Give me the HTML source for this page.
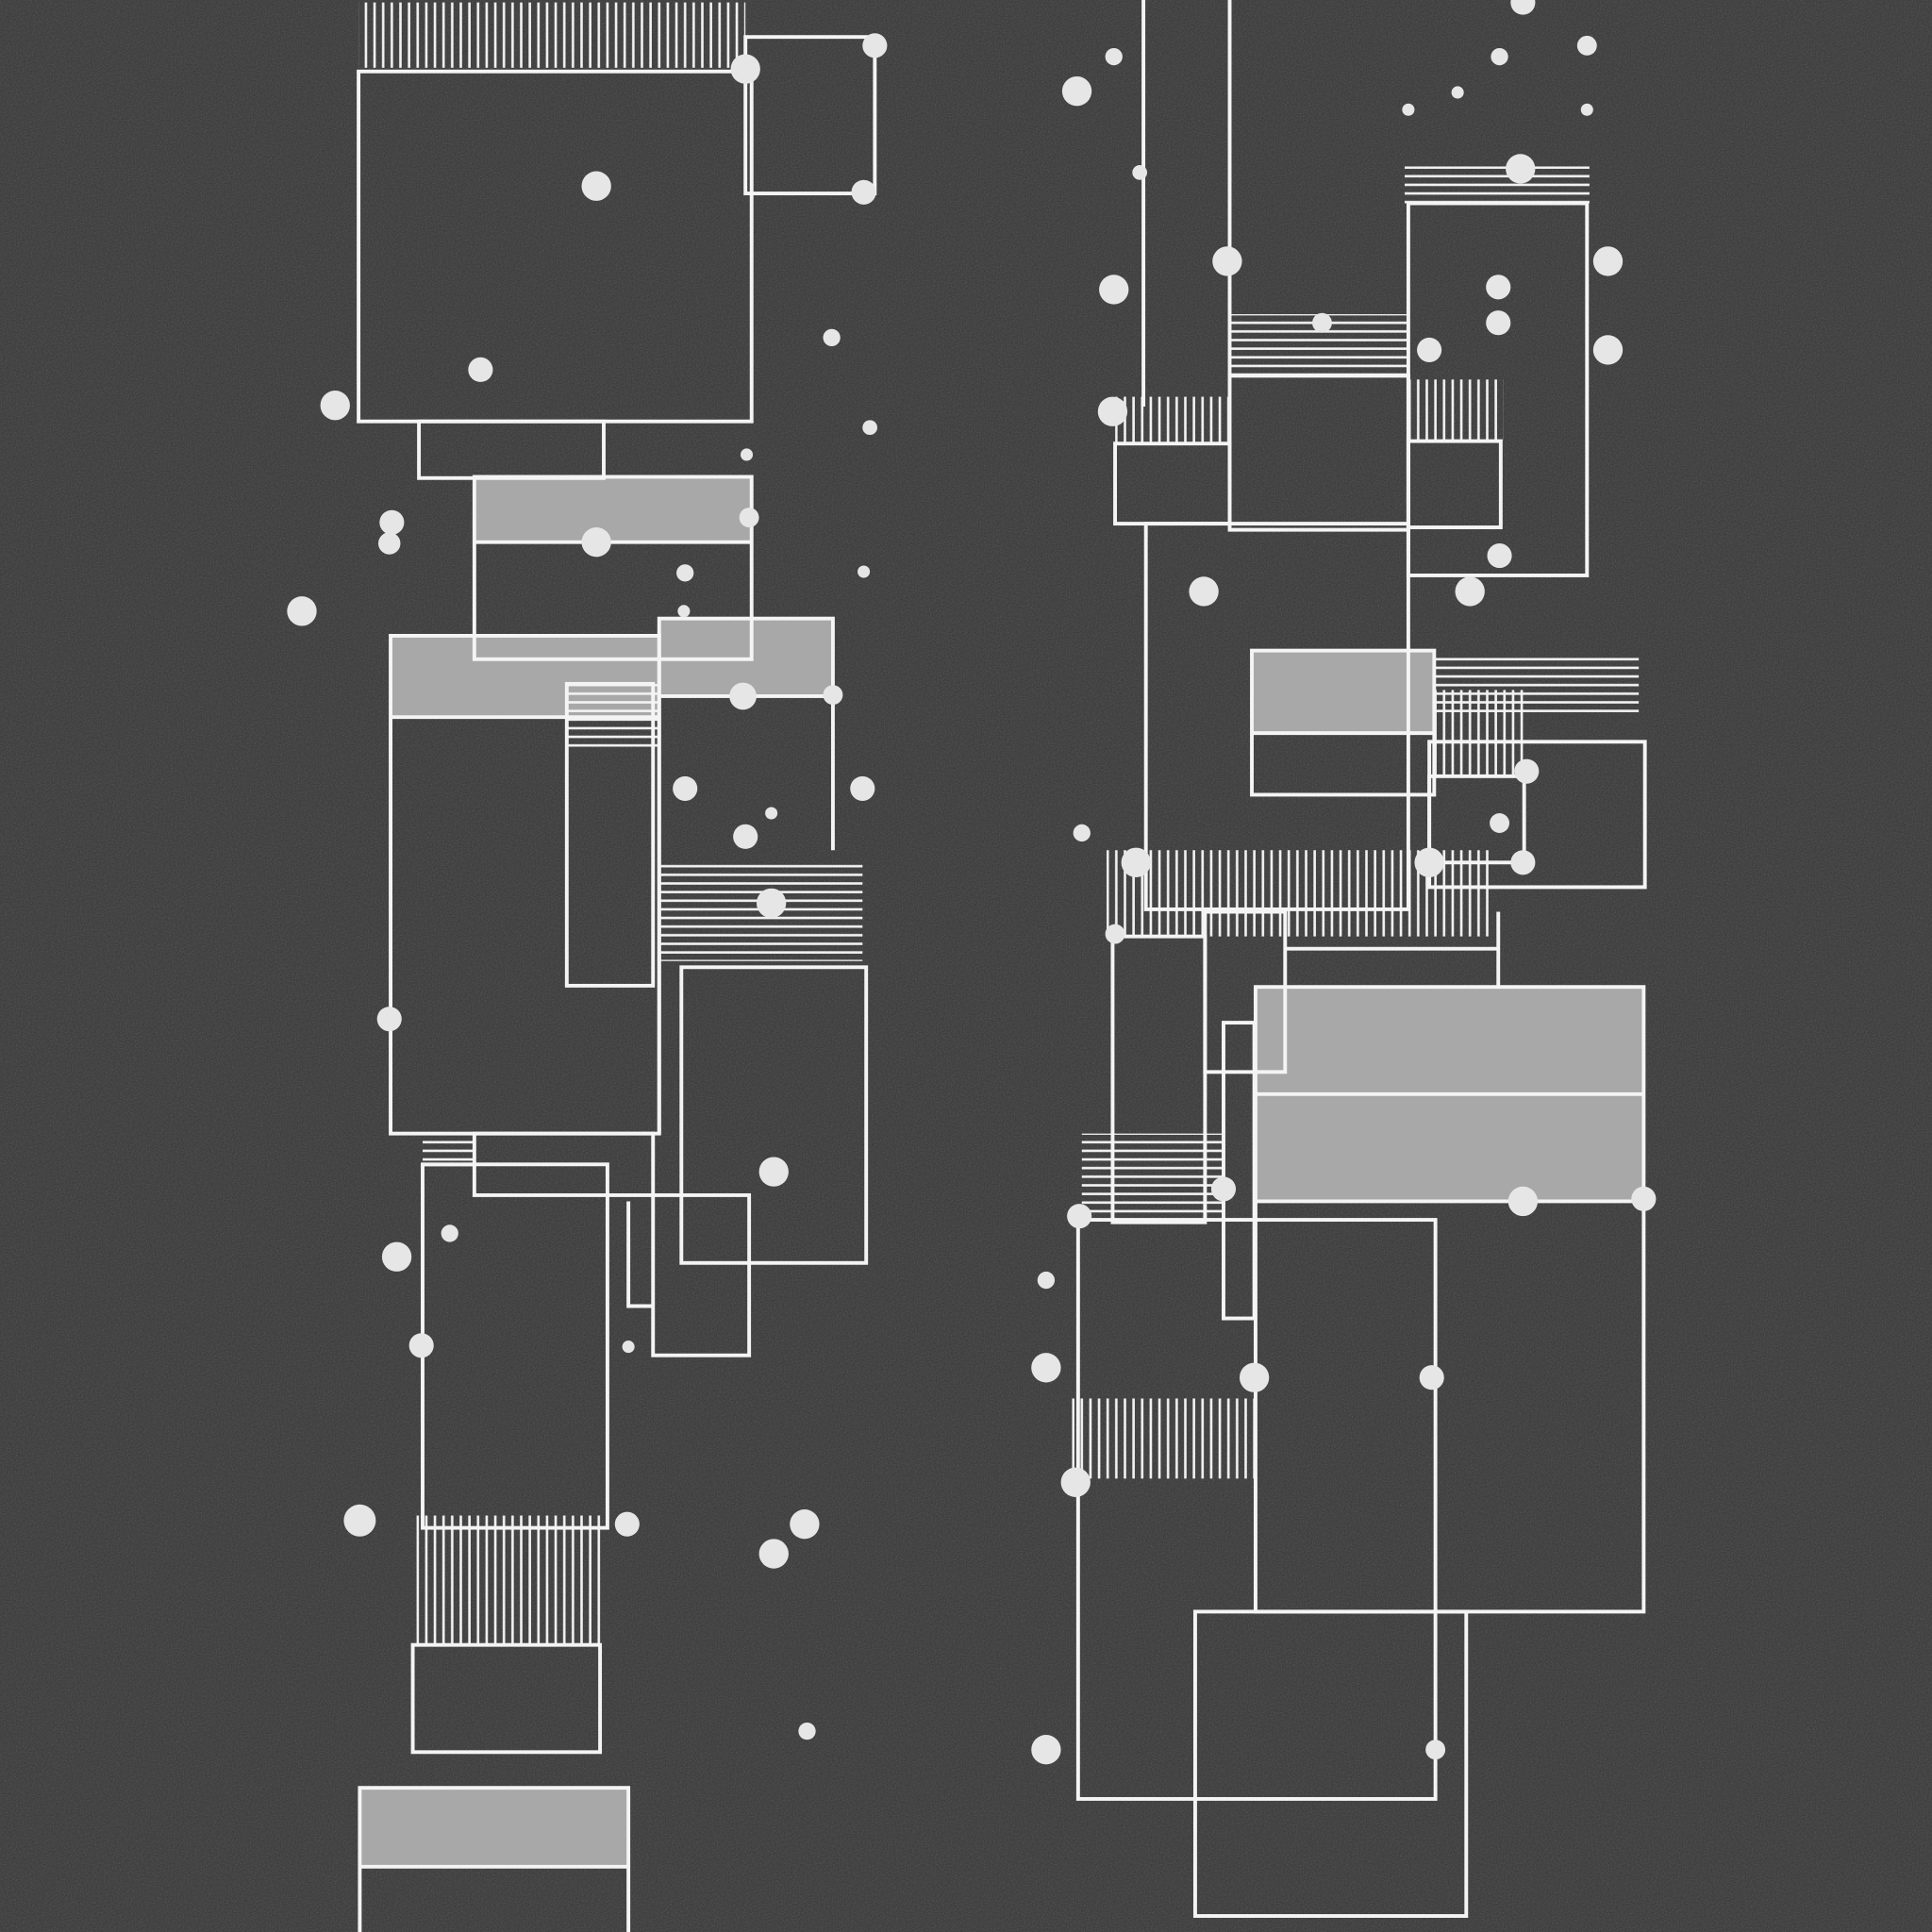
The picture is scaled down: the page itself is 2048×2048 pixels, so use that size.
<!DOCTYPE html>
<html><head><meta charset="utf-8"><style>
html,body{margin:0;padding:0;background:#3a3a3a;}
svg{display:block}
</style></head><body>
<svg width="2048" height="2048" viewBox="0 0 1568 1568" xmlns="http://www.w3.org/2000/svg">
<defs>
<pattern id="v" width="7" height="10" patternUnits="userSpaceOnUse"><line x1="3" y1="0" x2="3" y2="10" stroke="#f2f2f2" stroke-width="2"/></pattern>
<pattern id="h" width="10" height="7" patternUnits="userSpaceOnUse"><line x1="0" y1="3" x2="10" y2="3" stroke="#f2f2f2" stroke-width="2"/></pattern>
<filter id="n"><feTurbulence type="fractalNoise" baseFrequency="0.9" numOctaves="2" seed="3"/><feColorMatrix type="saturate" values="0"/><feComponentTransfer><feFuncA type="linear" slope="0.22"/></feComponentTransfer></filter>
</defs>
<rect width="1568" height="1568" fill="#363636"/>
<rect width="1568" height="1568" filter="url(#n)"/>
<g fill="#a8a8a8" stroke="none">
<rect x="385" y="387" width="225" height="53"/>
<rect x="535" y="502" width="141" height="63"/>
<rect x="317" y="516" width="218" height="66"/>
<rect x="1016" y="528" width="148" height="67"/>
<rect x="1019" y="801" width="315" height="174"/>
<rect x="292" y="1451" width="218" height="64"/>
</g>
<g stroke="none">
<rect x="291" y="2" width="314" height="53" fill="url(#v)"/>
<rect x="460" y="555" width="75" height="55" fill="url(#h)"/>
<rect x="535" y="700" width="165" height="80" fill="url(#h)"/>
<rect x="343" y="922" width="42" height="25" fill="url(#h)"/>
<rect x="338" y="1230" width="152" height="105" fill="url(#v)"/>
<rect x="1140" y="135" width="150" height="30" fill="url(#h)"/>
<rect x="998" y="255" width="145" height="50" fill="url(#h)"/>
<rect x="905" y="322" width="93" height="38" fill="url(#v)"/>
<rect x="1143" y="308" width="77" height="50" fill="url(#v)"/>
<rect x="1165" y="532" width="165" height="50" fill="url(#h)"/>
<rect x="1165" y="560" width="72" height="70" fill="url(#v)"/>
<rect x="898" y="690" width="312" height="70" fill="url(#v)"/>
<rect x="878" y="920" width="115" height="70" fill="url(#h)"/>
<rect x="870" y="1135" width="148" height="65" fill="url(#v)"/>
</g>
<g fill="none" stroke="#f4f4f4" stroke-width="3">
<rect x="291" y="58" width="319" height="284"/>
<rect x="605" y="30" width="105" height="127"/>
<rect x="340" y="342" width="150" height="46"/>
<rect x="385" y="387" width="225" height="148"/>
<line x1="385" y1="440" x2="610" y2="440"/>
<rect x="535" y="502" width="141" height="63"/>
<line x1="535" y1="565" x2="535" y2="920"/>
<line x1="676" y1="565" x2="676" y2="690"/>
<rect x="317" y="516" width="218" height="404"/>
<line x1="317" y1="582" x2="535" y2="582"/>
<rect x="460" y="555" width="70" height="245"/>
<rect x="553" y="785" width="150" height="240"/>
<rect x="343" y="945" width="150" height="295"/>
<rect x="385" y="920" width="145" height="50"/>
<rect x="530" y="970" width="78" height="130"/>
<polyline points="510,975 510,1060 530,1060"/>
<rect x="335" y="1335" width="152" height="87"/>
<rect x="292" y="1451" width="218" height="120"/>
<line x1="292" y1="1515" x2="510" y2="1515"/>
<line x1="928" y1="0" x2="928" y2="330"/>
<line x1="998" y1="0" x2="998" y2="305"/>
<rect x="1143" y="165" width="145" height="302"/>
<rect x="998" y="305" width="145" height="125"/>
<rect x="905" y="360" width="93" height="65"/>
<rect x="1143" y="358" width="75" height="70"/>
<rect x="930" y="425" width="213" height="313"/>
<rect x="1016" y="528" width="148" height="117"/>
<line x1="1016" y1="595" x2="1164" y2="595"/>
<rect x="1160" y="602" width="175" height="118"/>
<rect x="1160" y="630" width="77" height="70"/>
<rect x="978" y="740" width="65" height="130"/>
<rect x="903" y="760" width="75" height="232"/>
<line x1="1043" y1="770" x2="1216" y2="770"/>
<line x1="1216" y1="740" x2="1216" y2="800"/>
<rect x="993" y="830" width="25" height="240"/>
<rect x="1019" y="801" width="315" height="507"/>
<line x1="1019" y1="888" x2="1334" y2="888"/>
<line x1="1019" y1="975" x2="1334" y2="975"/>
<rect x="875" y="990" width="290" height="470"/>
<rect x="970" y="1308" width="220" height="247"/>
</g>
<g fill="#e6e6e6">
<circle cx="484" cy="151" r="12"/><circle cx="390" cy="300" r="10"/><circle cx="272" cy="329" r="12"/>
<circle cx="605" cy="56" r="12"/><circle cx="710" cy="37" r="10"/><circle cx="701" cy="156" r="10"/>
<circle cx="675" cy="274" r="7"/><circle cx="706" cy="347" r="6"/><circle cx="606" cy="369" r="5"/>
<circle cx="318" cy="424" r="10"/><circle cx="316" cy="441" r="9"/><circle cx="484" cy="440" r="12"/>
<circle cx="556" cy="465" r="7"/><circle cx="555" cy="496" r="5"/><circle cx="245" cy="496" r="12"/>
<circle cx="701" cy="464" r="5"/><circle cx="608" cy="420" r="8"/><circle cx="603" cy="565" r="11"/>
<circle cx="676" cy="564" r="8"/><circle cx="556" cy="640" r="10"/><circle cx="700" cy="640" r="10"/>
<circle cx="626" cy="660" r="5"/><circle cx="605" cy="679" r="10"/><circle cx="626" cy="733" r="12"/>
<circle cx="316" cy="827" r="10"/><circle cx="628" cy="951" r="12"/><circle cx="322" cy="1020" r="12"/>
<circle cx="365" cy="1001" r="7"/><circle cx="342" cy="1092" r="10"/><circle cx="510" cy="1093" r="5"/>
<circle cx="292" cy="1234" r="13"/><circle cx="509" cy="1237" r="10"/><circle cx="653" cy="1237" r="12"/>
<circle cx="628" cy="1261" r="12"/><circle cx="655" cy="1405" r="7"/>
<circle cx="874" cy="74" r="12"/><circle cx="904" cy="46" r="7"/><circle cx="1236" cy="2" r="10"/>
<circle cx="1217" cy="46" r="7"/><circle cx="1288" cy="37" r="8"/><circle cx="1183" cy="75" r="5"/>
<circle cx="1143" cy="89" r="5"/><circle cx="1288" cy="89" r="5"/><circle cx="925" cy="140" r="6"/>
<circle cx="1234" cy="137" r="12"/><circle cx="904" cy="235" r="12"/><circle cx="996" cy="212" r="12"/>
<circle cx="1305" cy="212" r="12"/><circle cx="1216" cy="233" r="10"/><circle cx="1216" cy="262" r="10"/>
<circle cx="1160" cy="284" r="10"/><circle cx="1305" cy="284" r="12"/><circle cx="1073" cy="262" r="8"/>
<circle cx="903" cy="334" r="12"/><circle cx="977" cy="480" r="12"/><circle cx="1193" cy="480" r="12"/>
<circle cx="1217" cy="451" r="10"/><circle cx="1239" cy="626" r="10"/><circle cx="1217" cy="668" r="8"/>
<circle cx="1160" cy="700" r="12"/><circle cx="1236" cy="700" r="10"/><circle cx="878" cy="676" r="7"/>
<circle cx="922" cy="700" r="12"/><circle cx="905" cy="758" r="8"/><circle cx="993" cy="965" r="10"/>
<circle cx="1236" cy="975" r="12"/><circle cx="1334" cy="973" r="10"/><circle cx="876" cy="987" r="10"/>
<circle cx="849" cy="1039" r="7"/><circle cx="849" cy="1110" r="12"/><circle cx="1018" cy="1118" r="12"/>
<circle cx="1162" cy="1118" r="10"/><circle cx="873" cy="1203" r="12"/><circle cx="849" cy="1420" r="12"/>
<circle cx="1165" cy="1420" r="8"/>
</g>
</svg>
</body></html>
